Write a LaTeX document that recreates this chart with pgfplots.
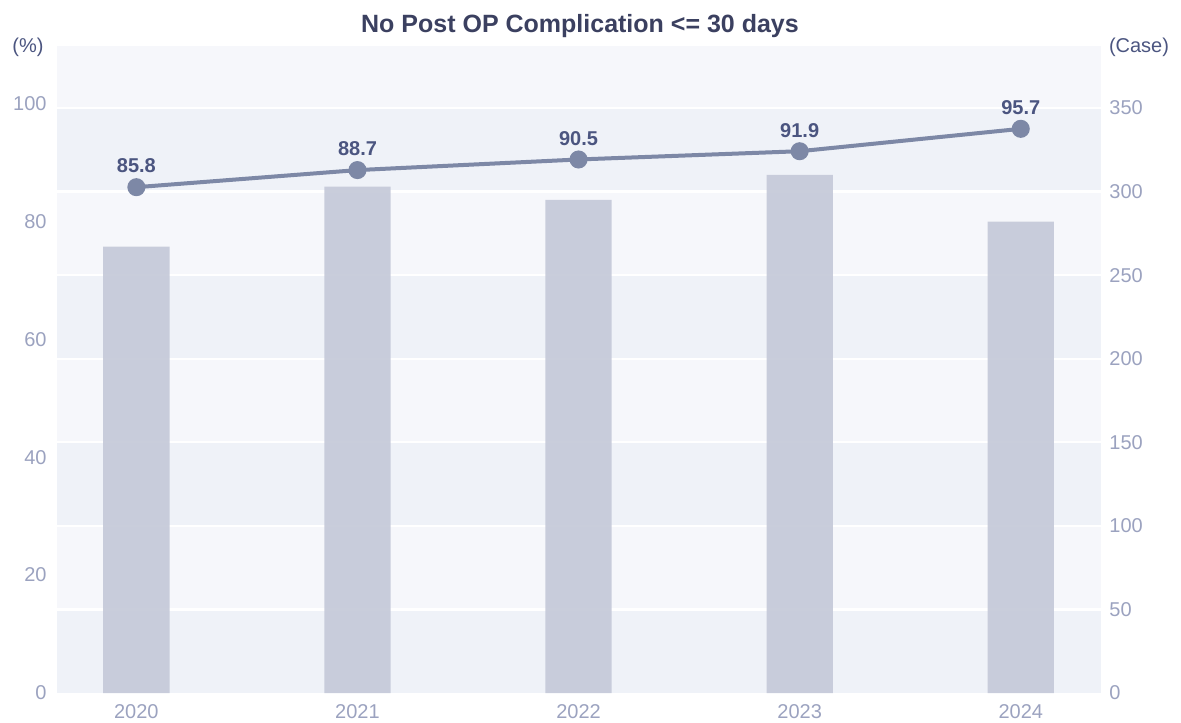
\documentclass[border=0pt]{standalone}
\usepackage{pgfplots}
\pgfplotsset{compat=1.18}
\usepackage{fontspec}
\setmainfont{Liberation Sans}
\definecolor{bandA}{HTML}{EFF2F8}
\definecolor{bandB}{HTML}{F6F7FB}
\definecolor{barc}{HTML}{C5C9D9}
\definecolor{linec}{HTML}{7D88A6}
\definecolor{labc}{HTML}{4B5580}
\definecolor{tickc}{HTML}{9BA2BF}
\definecolor{titlec}{HTML}{3B4060}
\begin{document}
\begin{tikzpicture}
\path[use as bounding box] (0pt,0pt) rectangle (590.5pt,361pt);
\coordinate (O) at (28.5pt,14.5pt);
\begin{axis}[at={(O)}, anchor=south west,
  width=522pt, height=323.5pt, scale only axis,
  xmin=-0.359, xmax=4.363, ymin=0, ymax=387.1,
  axis line style={draw=none}, major tick length=0pt,
  ytick={0,50,...,350}, yticklabel pos=right,
  xtick={0,1,2,3,4}, xticklabels={2020,2021,2022,2023,2024},
  tick label style={font=\fontsize{10}{12}\selectfont, text=tickc},
  yticklabel style={inner sep=0pt, anchor=west, xshift=4pt},
  xticklabel style={inner sep=0pt, anchor=north, yshift=-5.5pt},
  /pgf/number format/assume math mode=true,
  clip=false]
  \fill[bandA] (axis cs:-0.359,0) rectangle (axis cs:4.363,50);
  \fill[bandB] (axis cs:-0.359,50) rectangle (axis cs:4.363,100);
  \fill[bandA] (axis cs:-0.359,100) rectangle (axis cs:4.363,150);
  \fill[bandB] (axis cs:-0.359,150) rectangle (axis cs:4.363,200);
  \fill[bandA] (axis cs:-0.359,200) rectangle (axis cs:4.363,250);
  \fill[bandB] (axis cs:-0.359,250) rectangle (axis cs:4.363,300);
  \fill[bandA] (axis cs:-0.359,300) rectangle (axis cs:4.363,350);
  \fill[bandB] (axis cs:-0.359,350) rectangle (axis cs:4.363,387.1);
  \draw[white, line width=1.2pt] (axis cs:-0.359,50) -- (axis cs:4.363,50);
  \draw[white, line width=1.2pt] (axis cs:-0.359,100) -- (axis cs:4.363,100);
  \draw[white, line width=1.2pt] (axis cs:-0.359,150) -- (axis cs:4.363,150);
  \draw[white, line width=1.2pt] (axis cs:-0.359,200) -- (axis cs:4.363,200);
  \draw[white, line width=1.2pt] (axis cs:-0.359,250) -- (axis cs:4.363,250);
  \draw[white, line width=1.2pt] (axis cs:-0.359,300) -- (axis cs:4.363,300);
  \draw[white, line width=1.2pt] (axis cs:-0.359,350) -- (axis cs:4.363,350);
  \addplot[ybar, bar width=0.3, fill=barc, draw=none, fill opacity=0.92]
    coordinates {(0,267) (1,303) (2,295) (3,310) (4,282)};
\end{axis}
\begin{axis}[at={(O)}, anchor=south west,
  width=522pt, height=323.5pt, scale only axis,
  xmin=-0.359, xmax=4.363, ymin=0, ymax=109.75,
  axis line style={draw=none}, major tick length=0pt,
  ytick={0,20,...,100}, yticklabel pos=left, xtick=\empty,
  tick label style={font=\fontsize{10}{12}\selectfont, text=tickc},
  yticklabel style={inner sep=0pt, anchor=east, xshift=-5pt},
  /pgf/number format/assume math mode=true,
  clip=false]
  \addplot[linec, line width=2pt, mark=*, mark size=3.5pt,
    mark options={fill=linec, draw=linec},
    nodes near coords, point meta=explicit symbolic,
    nodes near coords style={font=\fontsize{10}{12}\selectfont\bfseries, text=labc, anchor=south, inner sep=0pt, yshift=6pt}]
    coordinates {(0,85.8)[85.8] (1,88.7)[88.7] (2,90.5)[90.5] (3,91.9)[91.9] (4,95.7)[95.7]};
\end{axis}
\node[font=\fontsize{10}{12}\selectfont, text=labc] at (14pt,337.5pt) {(\%)};
\node[font=\fontsize{10}{12}\selectfont, text=labc] at (569.5pt,337.5pt) {(Case)};
\node[font=\fontsize{12.5}{15}\selectfont\bfseries, text=titlec] at (290pt,348pt) {No Post OP Complication <= 30 days};
\end{tikzpicture}
\end{document}
